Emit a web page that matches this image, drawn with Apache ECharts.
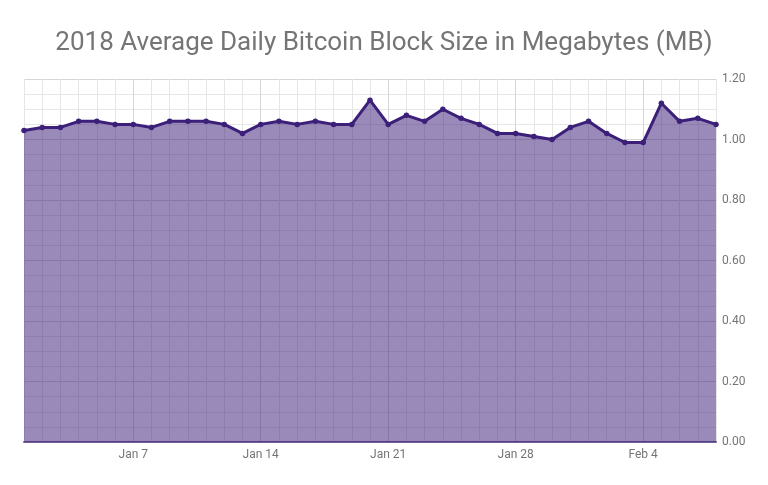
<!DOCTYPE html>
<html><head><meta charset="utf-8">
<script src="https://cdn.jsdelivr.net/npm/echarts@6/dist/echarts.min.js"></script>
<style>html,body{margin:0;padding:0;background:#fff}#c{width:768px;height:485px}</style>
</head><body><div id="c"></div>
<script>
const titleText = '2018 Average Daily Bitcoin Block Size in Megabytes (MB)';
const dates = ['Jan 1','Jan 2','Jan 3','Jan 4','Jan 5','Jan 6','Jan 7','Jan 8','Jan 9','Jan 10','Jan 11','Jan 12','Jan 13','Jan 14','Jan 15','Jan 16','Jan 17','Jan 18','Jan 19','Jan 20','Jan 21','Jan 22','Jan 23','Jan 24','Jan 25','Jan 26','Jan 27','Jan 28','Jan 29','Jan 30','Jan 31','Feb 1','Feb 2','Feb 3','Feb 4','Feb 5','Feb 6','Feb 7','Feb 8'];
const blockSize = [1.03,1.04,1.04,1.06,1.06,1.05,1.05,1.04,1.06,1.06,1.06,1.05,1.02,1.05,1.06,1.05,1.06,1.05,1.05,1.13,1.05,1.08,1.06,1.10,1.07,1.05,1.02,1.02,1.01,1.00,1.04,1.06,1.02,0.99,0.99,1.12,1.06,1.07,1.05];
const xTickLabels = ['Jan 7','Jan 14','Jan 21','Jan 28','Feb 4'];

const chart = echarts.init(document.getElementById('c'));
const minor = '#e6e6e6', major = '#d6d6d6';
chart.setOption({
  animation: false,
  title: {
    text: titleText, left: 'center', top: 25,
    textStyle: {fontFamily: 'Roboto', fontSize: 26, fontWeight: 'normal', color: '#757575'}
  },
  grid: {left: 24, right: 52, top: 79, bottom: 43},
  xAxis: {
    type: 'category', data: dates, boundaryGap: false,
    axisLine: {show: true, lineStyle: {color: '#6f6196', width: 2}},
    axisTick: {show: false},
    axisLabel: {
      interval: 0, color: '#757575', fontFamily: 'Roboto', fontSize: 12, margin: 7,
      formatter: v => xTickLabels.includes(v) ? v : ''
    },
    splitLine: {show: true, interval: 0, lineStyle: {color: [minor,minor,minor,minor,minor,minor,major], width: 1}}
  },
  yAxis: {
    type: 'value', position: 'right', min: 0, max: 1.2, interval: 0.2,
    axisLine: {show: false}, axisTick: {show: false},
    axisLabel: {color: '#757575', fontFamily: 'Roboto', fontSize: 12, margin: 6, formatter: v => v.toFixed(2)},
    splitLine: {show: true, lineStyle: {color: major}},
    minorTick: {show: false, splitNumber: 4},
    minorSplitLine: {show: true, lineStyle: {color: minor}}
  },
  series: [{
    type: 'line', data: blockSize,
    symbol: 'circle', symbolSize: 5.5,
    itemStyle: {color: '#3b1f78'},
    lineStyle: {color: '#3b1f78', width: 3},
    areaStyle: {color: 'rgba(59,31,120,0.52)', opacity: 1}
  }]
});
</script></body></html>
